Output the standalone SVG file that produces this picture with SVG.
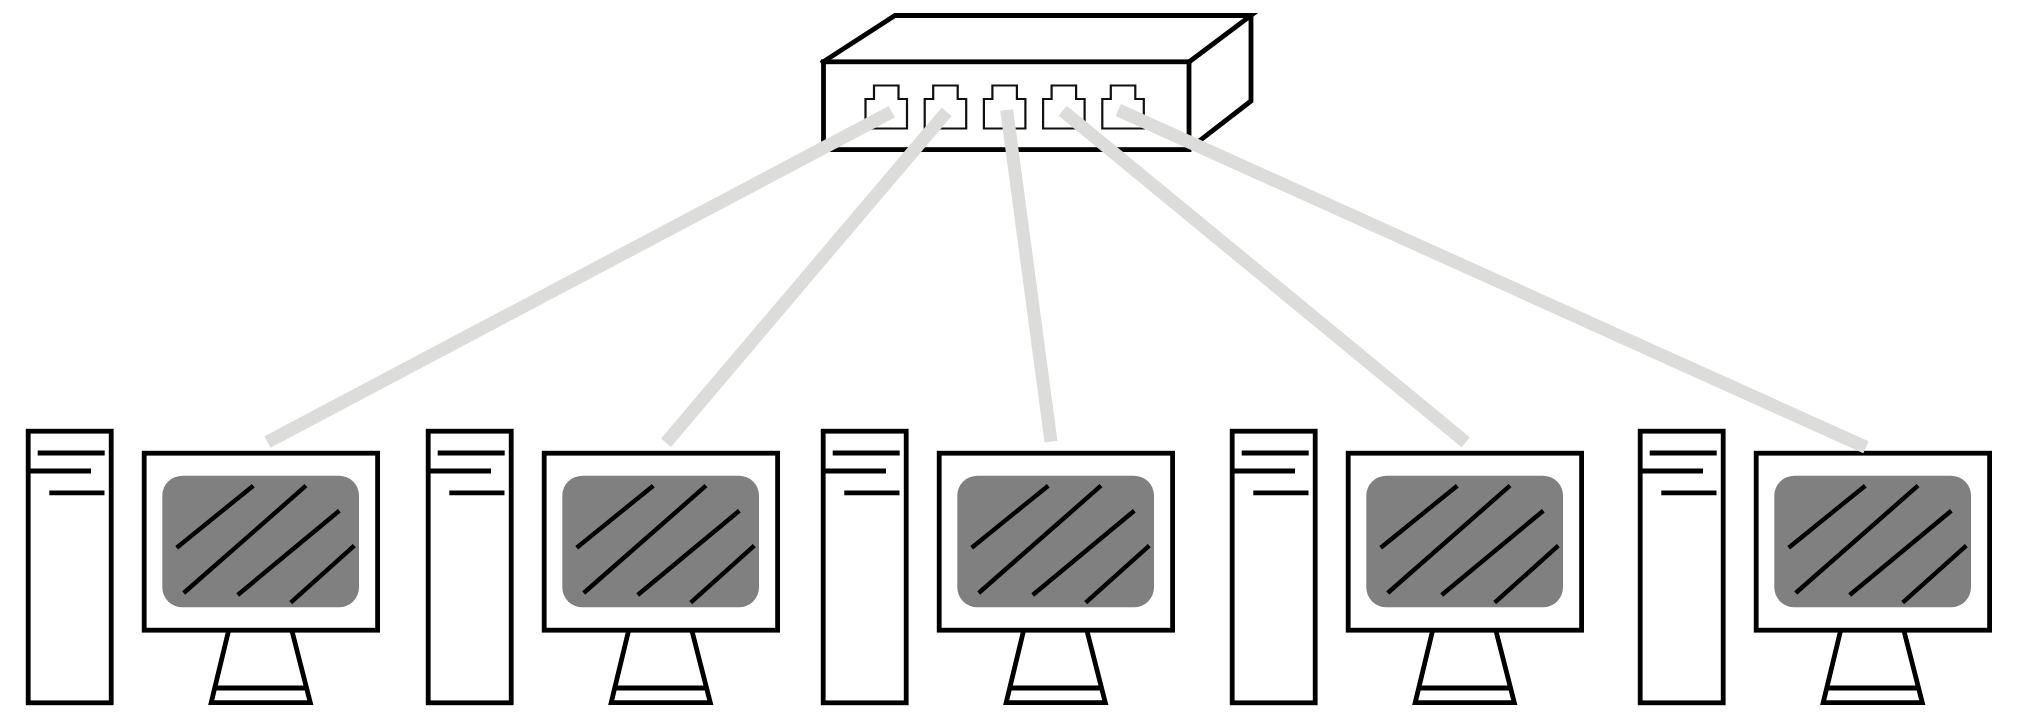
<svg xmlns="http://www.w3.org/2000/svg" width="2022" height="726" viewBox="0 0 2022 726">
<style>
.s{fill:none;stroke:#000;stroke-width:4.8}
.d{fill:none;stroke:#000;stroke-width:4.4}
.w{fill:#fff;stroke:#000;stroke-width:4.8}
.p{fill:#fff;stroke:#111;stroke-width:2.2}
.c{stroke:#dcdcda;stroke-width:13;fill:none}
.scr{fill:#808080}
</style>
<defs>
<g id="pc">
<rect class="w" x="28.2" y="431.2" width="83" height="271.6"/>
<path class="s" d="M37.7 453H104.7M28 471H91M49.3 492.8H104.5"/>
<rect class="w" x="144.2" y="453.2" width="233.4" height="177"/>
<rect class="scr" x="162.3" y="475.7" width="196.7" height="131.6" rx="20"/>
<path class="d" d="M176.7 547.7L253.3 485.7M183.7 593L306 485.7M237.7 595L339.3 510.7M290.7 602.7L354.3 545.7"/>
<path class="s" d="M228.5 631L211.2 702.7H310.3L292 631M216.7 688H306"/>
</g>
<path id="port" class="p" d="M865.5 128.5V99H874V85.5H898.5V99H907V128.5Z"/>
</defs>
<rect width="2022" height="726" fill="#fff"/>
<g id="switch">
<path class="s" stroke-linecap="square" d="M823 62L895 15.5H1251L1189 62M1251 15.5V101L1189 149"/>
<rect class="s" x="823.5" y="61.8" width="365.5" height="87.8"/>
<use href="#port"/><use href="#port" x="59.2"/><use href="#port" x="118.4"/><use href="#port" x="177.6"/><use href="#port" x="236.8"/>
</g>
<g id="pc1"><use href="#pc"/></g>
<g id="pc2"><use href="#pc" x="400"/></g>
<g id="pc3"><use href="#pc" x="795"/></g>
<g id="pc4"><use href="#pc" x="1204"/></g>
<g id="pc5"><use href="#pc" x="1612"/></g>
<g id="connectors">
<path class="c" d="M891.7 111.7L267.5 442"/>
<path class="c" d="M946.7 111.7L666 442.7"/>
<path class="c" d="M1006.7 110L1051 441.7"/>
<path class="c" d="M1062.7 110.7L1465.7 442.3"/>
<path class="c" d="M1118.3 110L1866 447.3"/>
</g>
</svg>
